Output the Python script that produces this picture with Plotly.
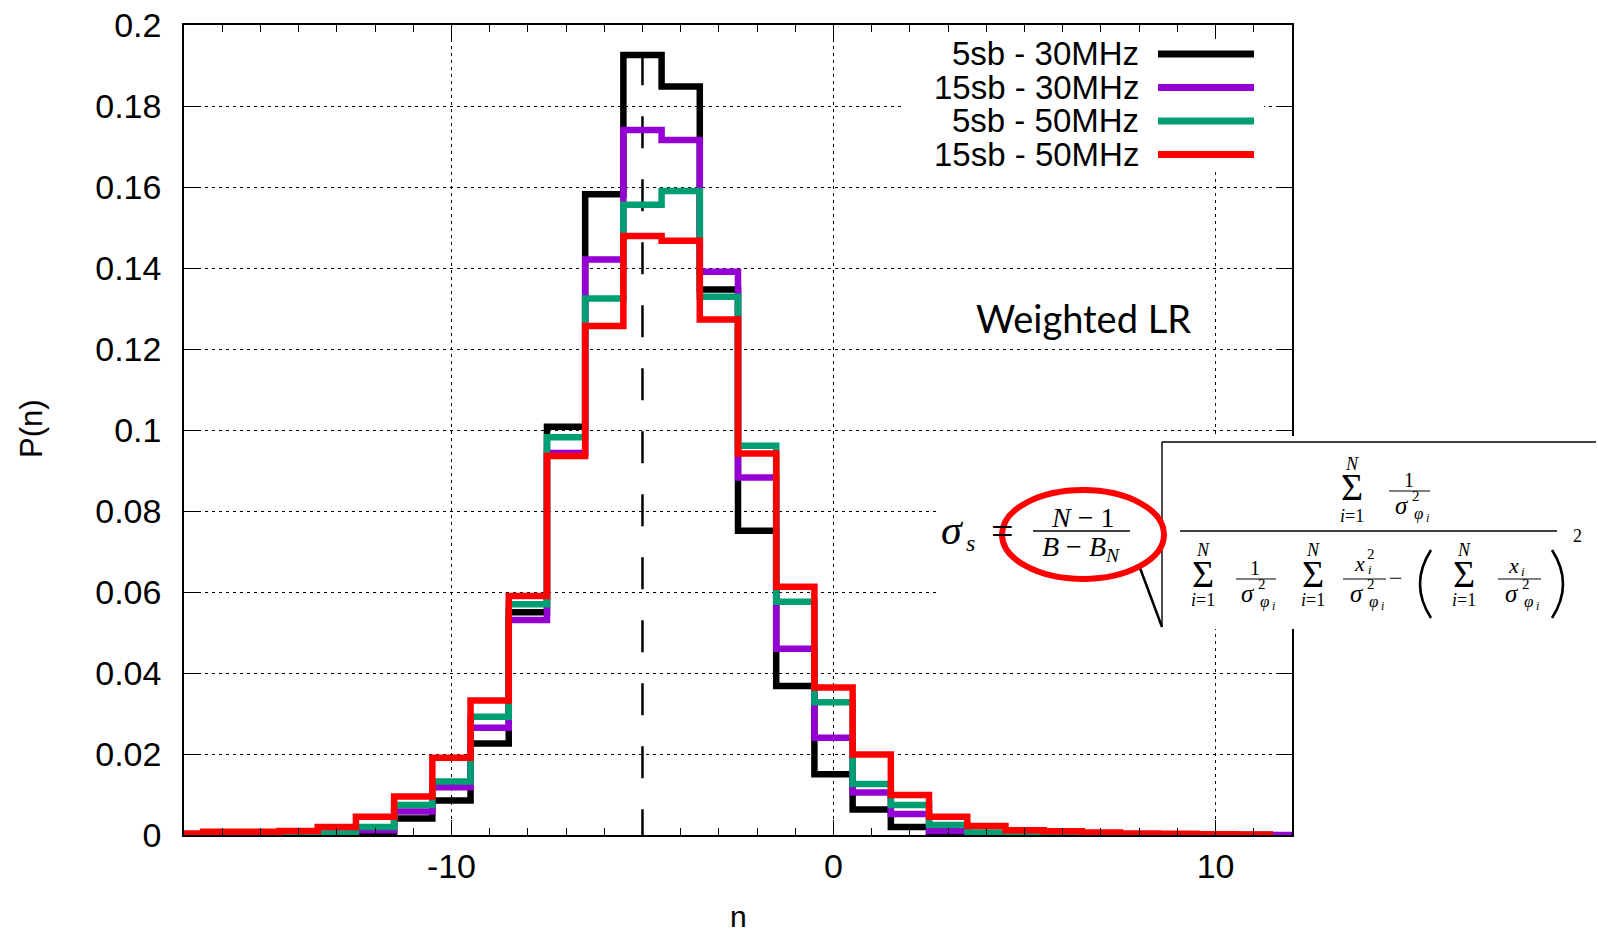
import plotly.graph_objects as go

# ---------------- data ----------------
n_bins_12 = list(range(-17, 13))       # bin centres -17 .. 12
n_bins_11 = list(range(-17, 12))       # bin centres -17 .. 11

p_5sb_30 = [0, 0, 0, 0, 0.0001, 0.0006, 0.0041, 0.0085, 0.0226, 0.055,
            0.1008, 0.1582, 0.1926, 0.1848, 0.1347, 0.0751, 0.0368, 0.015,
            0.0063, 0.002, 0.0006, 0.0002, 0, 0, 0, 0, 0, 0, 0]
p_15sb_30 = [0, 0.0001, 0.0001, 0.0001, 0.0003, 0.0012, 0.0058, 0.0118, 0.0265, 0.0531,
             0.0943, 0.1421, 0.1741, 0.1716, 0.1391, 0.0883, 0.046, 0.024,
             0.0105, 0.0052, 0.001, 0.0003, 0.0001, 0, 0, 0, 0, 0, 0, 0]
p_5sb_50 = [0, 0, 0, 0.0001, 0.0004, 0.002, 0.0074, 0.0132, 0.0292, 0.057,
            0.0982, 0.1325, 0.1556, 0.159, 0.1329, 0.0961, 0.0576, 0.0328,
            0.0126, 0.0074, 0.0025, 0.0006, 0.0001, 0, 0, 0, 0, 0, 0]
p_15sb_50 = [0.0004, 0.0008, 0.0008, 0.001, 0.002, 0.0045, 0.0095, 0.0191, 0.0332, 0.059,
             0.0936, 0.1257, 0.1479, 0.1467, 0.1273, 0.0942, 0.0613, 0.0364,
             0.0199, 0.0099, 0.0045, 0.0022, 0.0012, 0.0009, 0.0006, 0.0004,
             0.0003, 0.0002, 0.0001]

series_names = ["5sb - 30MHz", "15sb - 30MHz", "5sb - 50MHz", "15sb - 50MHz"]
series_colors = ["#000000", "#9400D3", "#009E73", "#FF0000"]

mean_n = -5
mean_top = 0.193

x_tickvals = [-10, 0, 10]
x_ticktext = ["-10", "0", "10"]
y_tickvals = [0, 0.02, 0.04, 0.06, 0.08, 0.1, 0.12, 0.14, 0.16, 0.18, 0.2]
y_ticktext = ["0", "0.02", "0.04", "0.06", "0.08", "0.1", "0.12", "0.14", "0.16", "0.18", "0.2"]

# ---------------- figure ----------------
W, H = 1598, 933
L, R, T, B = 184, 306, 25, 98
PW, PH = W - L - R, H - T - B


def px(x):
    return (x - L) / PW


def py(y):
    return (H - B - y) / PH


fig = go.Figure()

# dashed mean line
fig.add_trace(go.Scatter(x=[mean_n, mean_n], y=[mean_top, 0], mode="lines",
                         line=dict(color="black", width=2.5, dash="32px,31px"),
                         showlegend=False, hoverinfo="skip"))


def steps(centres, vals):
    xs = [c - 0.5 for c in centres] + [centres[-1] + 0.5]
    ys = list(vals) + [vals[-1]]
    return xs, ys


all_series = [(n_bins_11, p_5sb_30), (n_bins_12, p_15sb_30), (n_bins_11, p_5sb_50), (n_bins_11, p_15sb_50)]
for (cx, vals), name, col in zip(all_series, series_names, series_colors):
    xs, ys = steps(cx, vals)
    fig.add_trace(go.Scatter(x=xs, y=ys, mode="lines", name=name, line_shape="hv",
                             line=dict(color=col, width=6.5), showlegend=False))

shapes = []
annotations = []


def note(x, y, text, size, font="Liberation Serif", xanchor="center", angle=0):
    annotations.append(dict(x=px(x), y=py(y), xref="paper", yref="paper", text=text,
                            showarrow=False, xanchor=xanchor, yanchor="middle", textangle=angle,
                            borderpad=0,
                            font=dict(family=font, size=size, color="black")))


def seg(x0, y0, x1, y1, width=1.5, color="black"):
    shapes.append(dict(type="line", xref="paper", yref="paper", x0=px(x0), y0=py(y0),
                       x1=px(x1), y1=py(y1), line=dict(color=color, width=width), layer="above"))


def curve(x0, y0, xc, yc, x1, y1, width=2.0):
    path = "M {:.5f} {:.5f} Q {:.5f} {:.5f} {:.5f} {:.5f}".format(px(x0), py(y0), px(xc), py(yc), px(x1), py(y1))
    shapes.append(dict(type="path", xref="paper", yref="paper", path=path,
                       line=dict(color="black", width=width), layer="above"))


def white(x0, y0, x1, y1):
    shapes.append(dict(type="rect", xref="paper", yref="paper", x0=px(x0), y0=py(y0),
                       x1=px(x1), y1=py(y1), fillcolor="white", line=dict(width=0), layer="above"))


# ---- legend (gnuplot style: text right, sample on the right) ----
white(902, 39, 1264, 172)
legend_rows = [54, 87.5, 121, 154.5]
for name, col, yy in zip(series_names, series_colors, legend_rows):
    note(1140, yy, name, 33, font="Liberation Sans", xanchor="right")
    seg(1158, yy, 1254, yy, width=7, color=col)

# ---- Weighted LR ----
note(1083, 318, "Weighted LR", 38, font="Lato")

# ---- formula ----
white(938, 436, 1598, 629)
SER = "Liberation Serif"
note(952, 530, "<i>σ</i>", 42, font=SER)
note(970, 543, "<i>s</i>", 24, font=SER)
note(1002, 531, "=", 40, font=SER)
seg(1033, 531, 1130, 531, width=1.6)
note(1082, 517, "<i>N</i> − 1", 28, font=SER)
note(1081, 548, "<i>B</i> − <i>B</i><sub><i>N</i></sub>", 28, font=SER)

# radical sign
seg(1140, 568, 1162, 627, width=2.5)
seg(1162, 627, 1162, 442, width=1.4)
seg(1162, 442, 1596, 442, width=1.4)

# main fraction bar
seg(1180, 531, 1557, 531, width=1.6)


def sum_block(cx, ytop, ysig, ybot):
    note(cx, ytop, "<i>N</i>", 18, font=SER)
    note(cx, ysig, "Σ", 38, font=SER)
    note(cx, ybot, "<i>i</i>=1", 18, font=SER)


def sig_phi(cx, cy):
    note(cx - 7, cy, "<i>σ</i>", 25, font=SER)
    note(cx + 7, cy - 9, "2", 15, font=SER)
    note(cx + 9, cy + 8, "<i>φ</i>", 17, font=SER)
    note(cx + 18, cy + 13, "<i>i</i>", 12, font=SER)


# numerator
sum_block(1352, 464, 487, 516)
note(1409, 480, "1", 20, font=SER)
seg(1389, 491, 1430, 491, width=1.2)
sig_phi(1409, 505)

# denominator
sum_block(1203, 550, 574, 600)
note(1255, 568, "1", 20, font=SER)
seg(1236, 579, 1276, 579, width=1.2)
sig_phi(1255, 593)

sum_block(1313, 550, 574, 600)
note(1359, 563, "<i>x</i>", 22, font=SER)
note(1371, 554, "2", 15, font=SER)
note(1370, 569, "<i>i</i>", 13, font=SER)
seg(1343, 579, 1386, 579, width=1.2)
sig_phi(1364, 593)

note(1396, 578, "−", 24, font=SER)
curve(1431, 550, 1409, 584, 1431, 618, width=2.6)
sum_block(1464, 550, 574, 600)
note(1513, 565, "<i>x</i>", 22, font=SER)
note(1523, 571, "<i>i</i>", 13, font=SER)
seg(1498, 579, 1541, 579, width=1.2)
sig_phi(1519, 593)
curve(1552, 550, 1574, 584, 1552, 618, width=2.6)
note(1578, 536, "2", 18, font=SER)

# red ellipse
shapes.append(dict(type="circle", xref="paper", yref="paper",
                   x0=px(1083 - 81), x1=px(1083 + 81), y0=py(534.5 - 44.5), y1=py(534.5 + 44.5),
                   line=dict(color="#FF0000", width=6), fillcolor="rgba(0,0,0,0)", layer="above"))

# axis titles
note(31, 429, "P(n)", 31, font="Liberation Sans", angle=-90)
note(738, 916, "n", 30, font="Liberation Sans")

axis_common = dict(showline=True, linecolor="black", linewidth=1.5, mirror="ticks",
                   ticks="inside", tickcolor="black", ticklen=15, tickwidth=1.2,
                   showgrid=True, gridcolor="black", gridwidth=1, griddash="3px,4px",
                   zeroline=False, automargin=False,
                   tickfont=dict(family="Liberation Sans", size=34, color="black"))

fig.update_layout(
    width=W, height=H, autosize=False,
    margin=dict(l=L, r=R, t=T, b=B, pad=0),
    paper_bgcolor="white", plot_bgcolor="white",
    showlegend=False,
    shapes=shapes, annotations=annotations,
    xaxis=dict(range=[-17, 12], tickvals=x_tickvals, ticktext=x_ticktext,
               ticklabelstandoff=0,
               minor=dict(dtick=1, tick0=0, ticks="inside", ticklen=7, tickcolor="black", showgrid=False),
               **axis_common),
    yaxis=dict(range=[0, 0.2], tickvals=y_tickvals, ticktext=y_ticktext,
               ticklabelstandoff=14, **axis_common),
)

fig.write_html("out.html")
